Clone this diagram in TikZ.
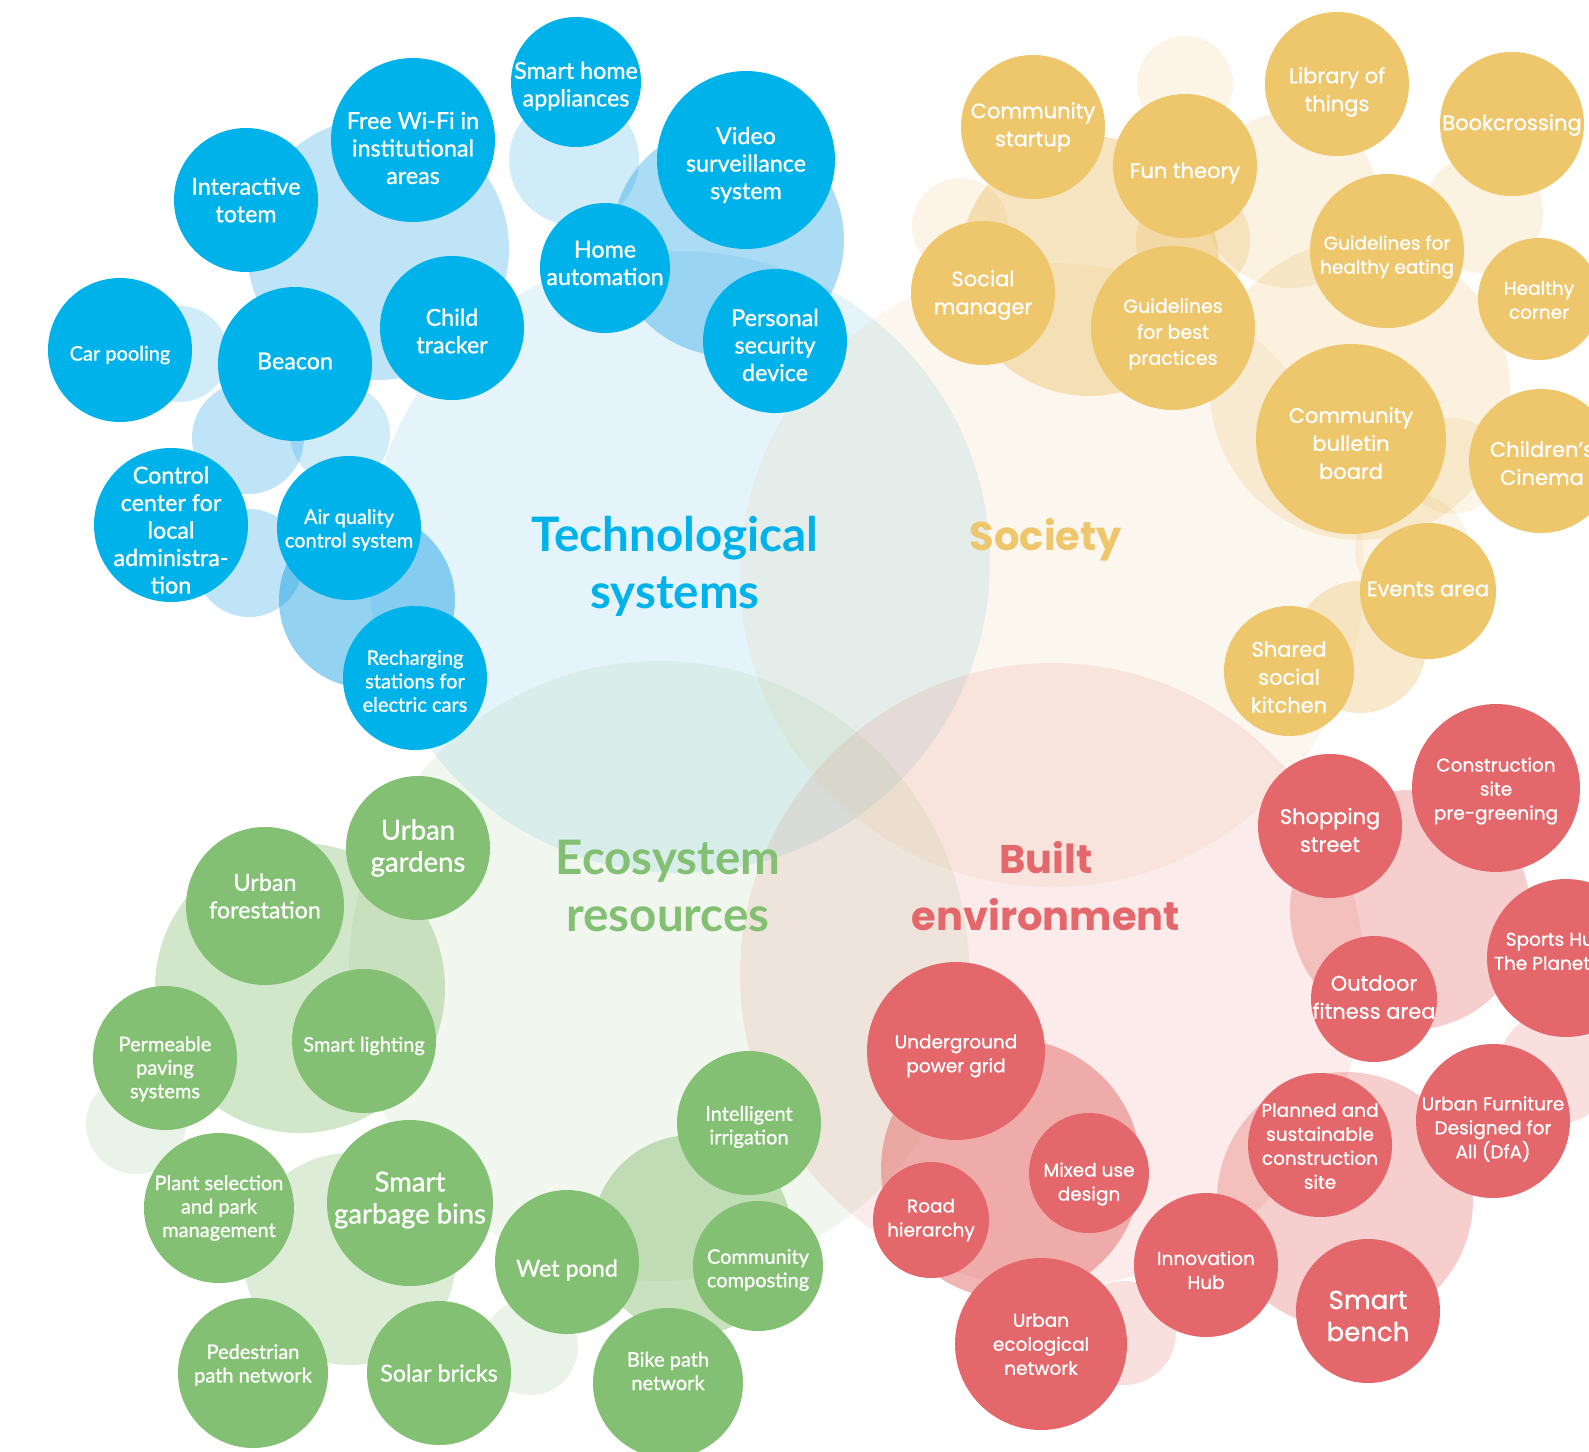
\documentclass[tikz,border=0pt]{standalone}
\usepackage{fontspec}
\setmainfont{Lato}[FakeBold=1.0]
\newfontfamily\latob{Lato}
\newfontfamily\pop{Poppins}[FakeBold=0.9]
\newfontfamily\popb{Poppins}
\definecolor{cB}{HTML}{00B2EA}
\definecolor{cO}{HTML}{EEC66C}
\definecolor{cG}{HTML}{84C073}
\definecolor{cR}{HTML}{E4676B}
\definecolor{bB}{RGB}{0,150,225}
\definecolor{bO}{RGB}{235,185,90}
\definecolor{bG}{RGB}{120,180,95}
\definecolor{bR}{RGB}{225,95,90}
\newcommand{\fS}{\fontsize{20}{23.5}\selectfont}
\newcommand{\fM}{\fontsize{23.3}{27.5}\selectfont}
\newcommand{\fL}{\fontsize{27.5}{32}\selectfont}
\newcommand{\pS}{\pop\fontsize{18.5}{24}\selectfont}
\newcommand{\pSs}{\pop\fontsize{19}{26}\selectfont}
\newcommand{\pM}{\pop\fontsize{21}{28}\selectfont}
\newcommand{\pL}{\pop\fontsize{26}{32}\selectfont}
\newcommand{\bub}[9]{\node[bub, fill=#5, minimum size={2*#4pt}] (#1) at (#2,#3) {};
  \node[txt, font=#6] (#1t) at ([shift={(#8,#9)}]#1.center) {#7};}
\newcommand{\blob}[5]{\fill[#1, fill opacity=#2] (#3,#4) circle[radius=#5pt];}
\tikzset{bub/.style={circle, inner sep=0pt, draw=none},
  txt/.style={inner sep=0pt, align=center, text=white}}
\begin{document}
\begin{tikzpicture}[x=1pt,y=-1pt]
\useasboundingbox (0,0) rectangle (1589,1451);
\clip (0,0) rectangle (1589,1451);
\fill[white] (0,0) rectangle (1589,1451);
% big circles
\blob{bB}{0.1}{679}{562}{311}
\blob{bO}{0.1}{1052}{575}{312}
\blob{bG}{0.1}{659}{971}{310}
\blob{bR}{0.12}{1052}{975}{312}
% blue blobs
\blob{bB}{0.25}{378}{249}{131}
\blob{bB}{0.18}{574}{160}{65}
\blob{bB}{0.33}{728}{240}{116}
\blob{bB}{0.18}{180}{354}{48}
\blob{bB}{0.25}{248}{438}{56}
\blob{bB}{0.18}{340}{434}{50}
\blob{bB}{0.25}{249}{563}{54}
\blob{bB}{0.42}{367}{600}{88}
% orange blobs
\blob{bO}{0.15}{1185}{84}{48}
\blob{bO}{0.15}{960}{226}{48}
\blob{bO}{0.38}{1089}{266}{130}
\blob{bO}{0.25}{1193}{240}{57}
\blob{bO}{0.18}{1290}{200}{88}
\blob{bO}{0.18}{1483}{213}{60}
\blob{bO}{0.2}{1360}{390}{150}
\blob{bO}{0.15}{1412}{550}{57}
\blob{bO}{0.3}{1360}{647}{66}
\blob{bO}{0.15}{1453}{466}{48}
% green blobs
\blob{bG}{0.33}{300}{988}{145}
\blob{bG}{0.15}{136}{1124}{50}
\blob{bG}{0.25}{350}{1259}{106}
\blob{bG}{0.15}{530}{1347}{48}
\blob{bG}{0.4}{692}{1235}{100}
% red blobs
\blob{bR}{0.3}{1410}{910}{120}
\blob{bR}{0.45}{1011}{1169}{130}
\blob{bR}{0.3}{1345}{1200}{128}
\blob{bR}{0.2}{1124}{1333}{52}
\blob{bR}{0.2}{1555}{1068}{57}
% titles
\node[font=\latob\bfseries\fontsize{47.5}{57}\selectfont, text=cB, align=center] (tTech) at (675,566) {Technological\\systems};
\node[font=\popb\bfseries\fontsize{40}{57}\selectfont, text=cO, align=center] (tSoc) at (1046,540) {Society};
\node[font=\latob\bfseries\fontsize{47.5}{57}\selectfont, text=cG, align=center] (tEco) at (668,886) {Ecosystem\\resources};
\node[font=\popb\bfseries\fontsize{40}{57}\selectfont, text=cR, align=center] (tBuilt) at (1046,886) {Built\\environment};
% blue nodes
\bub{n1}{576}{82}{65}{cB}{\fM}{Smart home\\appliances}{0}{4}
\bub{n2}{413}{140}{82}{cB}{\fM}{Free Wi-Fi in\\institutional\\areas}{0}{8}
\bub{n3}{246}{200}{72}{cB}{\fM}{Interactive\\totem}{0}{0}
\bub{n4}{746}{160}{89}{cB}{\fM}{Video\\surveillance\\system}{0}{5}
\bub{n5}{605}{268}{65}{cB}{\fM}{Home\\automation}{0}{-5}
\bub{n6}{775}{341}{72}{cB}{\fM}{Personal\\security\\device}{0}{4}
\bub{n7}{452}{328}{72}{cB}{\fM}{Child\\tracker}{0}{3}
\bub{n8}{295}{364}{77}{cB}{\fM}{Beacon}{0}{-3}
\bub{n9}{120}{350}{72}{cB}{\fS}{Car pooling}{0}{5}
\bub{n10}{171}{525}{77}{cB}{\fM}{Control\\center for\\local\\administra-\\tion}{0}{5}
\bub{n11}{349}{528}{72}{cB}{\fS}{Air quality\\control system}{0}{2}
\bub{n12}{415}{678}{72}{cB}{\fS}{Recharging\\stations for\\electric cars}{0}{3}
% orange nodes
\bub{o1}{1033}{127}{72}{cO}{\pM}{Community\\startup}{0}{0}
\bub{o2}{1185}{166}{72}{cO}{\pM}{Fun theory}{0}{7}
\bub{o3}{1337}{84}{72}{cO}{\pM}{Library of\\things}{0}{8}
\bub{o4}{1512}{124}{72}{cO}{\pM}{Bookcrossing}{0}{1}
\bub{o5}{983}{293}{72}{cO}{\pM}{Social\\manager}{0}{2}
\bub{o6}{1173}{328}{82}{cO}{\pSs}{Guidelines\\for best\\practices}{0}{6}
\bub{o7}{1387}{251}{77}{cO}{\pS}{Guidelines for\\healthy eating}{0}{6}
\bub{o8}{1539}{299}{61}{cO}{\pS}{Healthy\\corner}{0}{1}
\bub{o9}{1351}{439}{95}{cO}{\pM}{Community\\bulletin\\board}{0}{4}
\bub{o10}{1541}{461}{72}{cO}{\pM}{Children’s\\Cinema}{1}{2}
\bub{o11}{1428}{591}{68}{cO}{\pM}{Events area}{0}{-2}
\bub{o12}{1289}{671}{65}{cO}{\pM}{Shared\\social\\kitchen}{0}{6}
% green nodes
\bub{g1}{418}{848}{72}{cG}{\fL}{Urban\\gardens}{0}{0}
\bub{g2}{265}{906}{79}{cG}{\fM}{Urban\\forestation}{0}{-10}
\bub{g3}{165}{1058}{72}{cG}{\fS}{Permeable\\paving\\systems}{0}{11}
\bub{g4}{364}{1041}{72}{cG}{\fS}{Smart lighting}{0}{5}
\bub{g5}{219}{1208}{75}{cG}{\fS}{Plant selection\\and park\\management}{0}{0}
\bub{g6}{410}{1203}{83}{cG}{\fL}{Smart\\garbage bins}{0}{-3}
\bub{g7}{749}{1123}{72}{cG}{\fS}{Intelligent\\irrigation}{0}{4}
\bub{g8}{567}{1262}{72}{cG}{\fM}{Wet pond}{0}{8}
\bub{g9}{758}{1266}{65}{cG}{\fS}{Community\\composting}{0}{4}
\bub{g10}{253}{1373}{75}{cG}{\fS}{Pedestrian\\path network}{0}{-8}
\bub{g11}{439}{1373}{72}{cG}{\fM}{Solar bricks}{0}{0}
\bub{g12}{668}{1383}{75}{cG}{\fS}{Bike path\\network}{0}{-12}
% red nodes
\bub{r1}{1330}{826}{72}{cR}{\pM}{Shopping\\street}{0}{4}
\bub{r2}{1496}{788}{84}{cR}{\pS}{Construction\\site\\pre-greening}{0}{3}
\bub{r3}{1566}{958}{79}{cR}{\pS}{\hspace*{28pt}Sports Hub\\The Planet}{-24}{-7}
\bub{r4}{1374}{999}{63}{cR}{\pM}{Outdoor\\fitness area}{0}{-2}
\bub{r5}{956}{1051}{89}{cR}{\pS}{Underground\\power grid}{0}{5}
\bub{r6}{1089}{1173}{60}{cR}{\pS}{Mixed use\\design}{0}{11}
\bub{r7}{931}{1220}{58}{cR}{\pS}{Road\\hierarchy}{0}{0}
\bub{r8}{1320}{1145}{72}{cR}{\pS}{Planned and\\sustainable\\construction\\site}{0}{1}
\bub{r9}{1493}{1121}{77}{cR}{\pS}{Urban Furniture\\Designed for\\All (DfA)}{0}{8}
\bub{r10}{1206}{1265}{72}{cR}{\pS}{Innovation\\Hub}{0}{5}
\bub{r11}{1368}{1311}{72}{cR}{\pL}{Smart\\bench}{0}{5}
\bub{r12}{1041}{1344}{86}{cR}{\pS}{Urban\\ecological\\network}{0}{0}
\end{tikzpicture}
\end{document}
